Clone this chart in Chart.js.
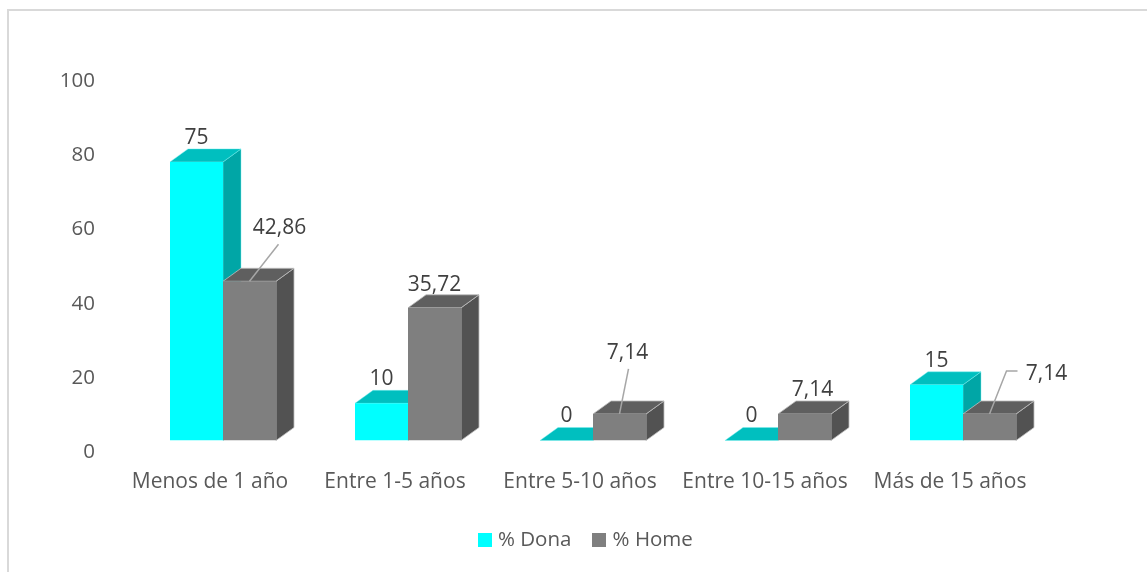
<!DOCTYPE html>
<html>
<head>
<meta charset="utf-8">
<style>html,body{margin:0;padding:0;background:#fff;overflow:hidden}#w{position:relative;width:1147px;height:572px}</style>
<script src="https://cdn.jsdelivr.net/npm/chart.js@4/dist/chart.umd.min.js"></script>
</head>
<body>
<div id="w"><canvas id="c" width="1147" height="572"></canvas></div>
<script>
const categories = ["Menos de 1 año","Entre 1-5 años","Entre 5-10 años","Entre 10-15 años","Más de 15 años"];
const donaValues = [75,10,0,0,15];
const homeValues = [42.86,35.72,7.14,7.14,7.14];
const seriesNames = ["% Dona","% Home"];
const yTicks = [0,20,40,60,80,100];

const FONT = '"Open Sans"';
const DEPTH_X = 18, DEPTH_Y = 13;
const shades = [
  {front:'#00ffff', top:'#00bfbf', side:'#00a6a6', edge:'rgba(120,240,240,.45)'},
  {front:'#7f7f7f', top:'#5f5f5f', side:'#525252', edge:'rgba(190,190,190,.8)'}
];
// label placement relative to each bar's centre and top: [dx, dy]
const labelShift = [
  [[0,-24],[0,-24],[0,-24],[0,-24],[0,-24]],
  [[30,-53],[0,-23],[8,-61],[8,-24],[57,-40]]
];
// leader lines relative to each bar's centre and top
const leaders = {
  '1-0': [[0,0],[29,-37]],
  '1-2': [[0,0],[9,-45]],
  '1-4': [[0,0],[17,-43],[28,-43]]
};
const fmt = v => String(v).replace('.', ',');

function swatch(color){
  const s=document.createElement('canvas'); s.width=14; s.height=14;
  const g=s.getContext('2d'); g.fillStyle=color; g.fillRect(0,0,14,14);
  return s;
}

const bars3d = {
  id:'bars3d',
  afterLayout(chart){ chart.legend.left += 96; },
  beforeDatasetsDraw(chart){
    const c = chart.ctx;
    [0,1].forEach(ds=>{
      chart.getDatasetMeta(ds).data.forEach(b=>{
        const l=b.x-b.width/2, r=b.x+b.width/2, t=b.y, bt=b.base, s=shades[ds];
        c.save();
        c.lineWidth=1; c.strokeStyle=s.edge; c.lineJoin='round';
        c.fillStyle=s.side;
        c.beginPath();c.moveTo(r,bt);c.lineTo(r+DEPTH_X,bt-DEPTH_Y);c.lineTo(r+DEPTH_X,t-DEPTH_Y);c.lineTo(r,t);c.closePath();
        if(b.base-b.y>0.5){c.fill();c.stroke();}
        c.fillStyle=s.top;
        c.beginPath();c.moveTo(l,t);c.lineTo(l+DEPTH_X,t-DEPTH_Y);c.lineTo(r+DEPTH_X,t-DEPTH_Y);c.lineTo(r,t);c.closePath();
        c.fill();c.stroke();
        c.restore();
      });
    });
  },
  afterDatasetsDraw(chart){
    const c = chart.ctx;
    c.save();
    c.strokeStyle='#a6a6a6'; c.lineWidth=1.5;
    Object.keys(leaders).forEach(k=>{
      const [ds,i]=k.split('-').map(Number), b=chart.getDatasetMeta(ds).data[i];
      c.beginPath();
      leaders[k].forEach((p,n)=>{const x=b.x+p[0],y=b.y+p[1]; n?c.lineTo(x,y):c.moveTo(x,y);});
      c.stroke();
    });
    c.font='21px '+FONT; c.fillStyle='#404040'; c.textAlign='center'; c.textBaseline='middle';
    [0,1].forEach(ds=>{
      const vals=chart.data.datasets[ds].data;
      chart.getDatasetMeta(ds).data.forEach((b,i)=>{
        const d=labelShift[ds][i];
        c.fillText(fmt(vals[i]), b.x+d[0], b.y+d[1]);
      });
    });
    c.restore();
  },
  beforeDraw(chart){
    const c = chart.ctx;
    c.save();
    c.strokeStyle='#d9d9d9'; c.lineWidth=2;
    c.beginPath();c.moveTo(8,572);c.lineTo(8,10);c.lineTo(1147,10);c.stroke();
    c.restore();
  }
};

new Chart(document.getElementById('c'),{
  type:'bar',
  plugins:[bars3d],
  data:{
    labels:categories,
    datasets:[
      {label:seriesNames[0],data:donaValues,backgroundColor:shades[0].front,borderWidth:0},
      {label:seriesNames[1],data:homeValues,backgroundColor:shades[1].front,borderWidth:0}
    ]
  },
  options:{
    responsive:false,
    animation:false,
    layout:{padding:{left:23,right:91.5,top:69,bottom:12}},
    categoryPercentage:0.573,
    barPercentage:1,
    plugins:{
      legend:{
        position:'bottom',
        labels:{
          usePointStyle:true,pointStyleWidth:6,boxHeight:14,padding:25,color:'#595959',font:{family:FONT,size:20.5},
          generateLabels(chart){
            return Chart.defaults.plugins.legend.labels.generateLabels(chart).map((it,i)=>{
              it.pointStyle=swatch(shades[i].front); return it;
            });
          }
        }
      },
      tooltip:{enabled:false}
    },
    scales:{
      x:{
        grid:{display:false},border:{display:false},
        ticks:{color:'#595959',font:{family:FONT,size:21},labelOffset:-13,padding:21,maxRotation:0,autoSkip:false},
        afterFit(s){s.height=64;}
      },
      y:{
        min:0,max:100,
        afterBuildTicks(s){s.ticks=yTicks.map(v=>({value:v}));},
        grid:{display:false},border:{display:false},
        ticks:{color:'#595959',font:{family:FONT,size:20.5},labelOffset:12,padding:27.5},
        afterFit(s){s.width=107.5;}
      }
    }
  }
});
</script>
</body>
</html>
